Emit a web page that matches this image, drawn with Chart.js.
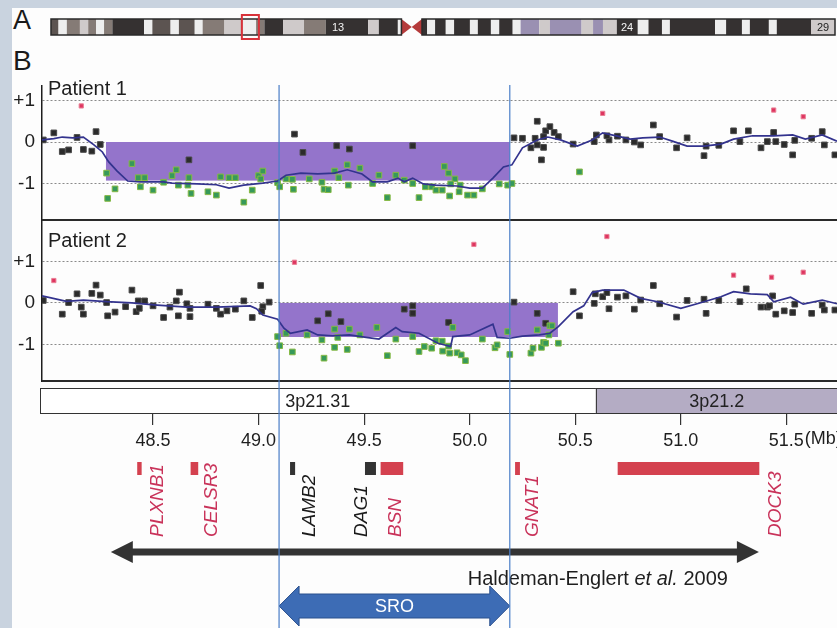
<!DOCTYPE html>
<html>
<head>
<meta charset="utf-8">
<title>3p21.31 deletions</title>
<script src="https://cdn.jsdelivr.net/npm/chart.js@4.4.1/dist/chart.umd.min.js"></script>
<style>
  body{margin:0;width:837px;height:628px;overflow:hidden;background:#c9d3df;font-family:Arial,"Liberation Sans",sans-serif;}
  .sheet{position:absolute;left:12px;top:8px;width:825px;height:620px;background:#fdfdfd;}
  canvas{position:absolute;left:0;}
  .lab{position:absolute;left:13px;color:#1a1a1a;}
</style>
</head>
<body>
<div class="sheet"></div>
<div class="lab" style="top:5px;font-size:27px;">A</div>
<div class="lab" style="top:45px;font-size:28px;">B</div>
<canvas id="ideo" width="837" height="32" style="top:11px"></canvas>
<canvas id="pat1" width="837" height="151" style="top:70px"></canvas>
<canvas id="pat2" width="837" height="163" style="top:221px"></canvas>
<canvas id="genes" width="837" height="244" style="top:384px"></canvas>
<script>
// ---- data (positions in Mb, values are log2 ratios) ----
var X_MIN = 47.974, X_MAX = 51.74;
var tickVals = [48.5, 49.0, 49.5, 50.0, 50.5, 51.0, 51.5];
var yTicks = [-1, 0, 1];
var sro = [49.097, 50.19];
var haldeman = [48.30, 51.37];

var p1Black = [[47.98,0.05],[48.03,0.22],[48.07,-0.23],[48.10,-0.19],[48.14,0.11],[48.17,-0.18],[48.21,-0.22],[48.23,0.25],[48.25,-0.06],[48.67,-0.43],[49.17,0.19],[49.21,-0.25],[49.37,-0.09],[49.43,-0.17],[49.73,-0.09],[50.21,0.10],[50.25,0.09],[50.32,0.50],[50.29,-0.14],[50.32,-0.07],[50.35,-0.13],[50.34,-0.43],[50.31,0.09],[50.35,0.13],[50.36,0.27],[50.38,0.37],[50.40,0.23],[50.42,0.13],[50.49,-0.05],[50.59,0.01],[50.60,0.17],[50.66,0.05],[50.65,0.15],[50.70,0.14],[50.74,0.05],[50.78,0.0],[50.81,-0.07],[50.87,0.41],[50.90,0.13],[50.98,-0.14],[51.03,0.10],[51.11,-0.33],[51.12,-0.10],[51.18,-0.08],[51.25,0.27],[51.28,0.01],[51.32,0.27],[51.38,-0.14],[51.41,0.01],[51.44,0.23],[51.45,0.01],[51.49,-0.06],[51.53,-0.31],[51.54,0.04],[51.62,0.09],[51.67,0.25],[51.68,-0.07],[51.73,-0.31]];
var p1Green = [[48.28,-0.75],[48.32,-1.13],[48.285,-1.36],[48.40,-0.52],[48.43,-0.86],[48.46,-0.86],[48.44,-1.08],[48.50,-1.16],[48.55,-0.97],[48.59,-0.81],[48.61,-0.67],[48.62,-1.04],[48.67,-0.86],[48.665,-1.04],[48.68,-1.24],[48.76,-1.20],[48.80,-1.28],[48.82,-0.84],[48.86,-0.86],[48.89,-0.86],[48.93,-1.45],[48.97,-1.16],[49.00,-0.81],[49.01,-0.89],[49.02,-0.70],[49.09,-0.98],[49.10,-1.08],[49.13,-0.89],[49.16,-0.90],[49.165,-1.14],[49.24,-0.89],[49.30,-0.97],[49.31,-1.14],[49.33,-1.15],[49.36,-0.70],[49.38,-0.86],[49.42,-0.55],[49.425,-1.04],[49.48,-0.63],[49.54,-1.0],[49.57,-0.80],[49.61,-1.34],[49.65,-0.80],[49.69,-0.92],[49.73,-1.0],[49.76,-1.34],[49.79,-1.08],[49.82,-1.08],[49.84,-1.16],[49.87,-1.16],[49.88,-0.59],[49.90,-0.75],[49.905,-1.30],[49.93,-0.89],[49.91,-1.01],[49.95,-1.20],[49.955,-1.04],[49.99,-1.28],[50.02,-1.28],[50.06,-1.13],[50.14,-1.01],[50.18,-1.04],[50.20,-1.0],[50.52,-0.72]];
var p1Red = [[48.16,0.87],[50.63,0.69],[51.44,0.77],[51.58,0.61]];
var p1Avg = [[47.974,0.05],[48.03,0.08],[48.07,0.12],[48.12,0.10],[48.17,0.12],[48.22,-0.07],[48.26,-0.24],[48.29,-0.48],[48.33,-0.70],[48.38,-0.94],[48.44,-0.96],[48.55,-0.96],[48.59,-0.99],[48.71,-1.01],[48.80,-1.03],[48.86,-1.11],[48.93,-1.04],[49.02,-0.99],[49.09,-0.94],[49.13,-0.80],[49.20,-0.75],[49.28,-0.77],[49.36,-0.75],[49.42,-0.67],[49.49,-0.77],[49.54,-0.96],[49.61,-0.96],[49.66,-0.87],[49.69,-0.96],[49.73,-0.87],[49.78,-1.01],[49.84,-1.04],[49.94,-1.06],[50.00,-1.11],[50.06,-1.11],[50.11,-0.87],[50.16,-0.60],[50.20,-0.55],[50.25,-0.14],[50.32,0.05],[50.37,0.12],[50.43,0.05],[50.51,-0.10],[50.58,0.05],[50.63,0.22],[50.70,0.14],[50.76,0.07],[50.82,0.10],[50.90,0.12],[50.96,0.02],[51.03,-0.10],[51.11,-0.10],[51.19,-0.05],[51.25,0.07],[51.34,0.15],[51.44,0.15],[51.53,0.17],[51.59,0.07],[51.67,0.17],[51.74,0.02]];
var p1Del = [48.277, 50.19, -0.93];

var p2Black = [[47.98,0.06],[48.07,-0.27],[48.10,0.01],[48.14,0.22],[48.16,-0.10],[48.17,-0.27],[48.21,0.23],[48.23,0.43],[48.25,0.19],[48.28,0.01],[48.285,-0.31],[48.32,-0.22],[48.37,-0.09],[48.40,0.31],[48.42,-0.21],[48.435,-0.13],[48.43,0.05],[48.46,0.05],[48.50,-0.07],[48.55,-0.35],[48.58,-0.10],[48.61,0.05],[48.62,-0.31],[48.625,0.26],[48.66,-0.02],[48.675,-0.13],[48.675,-0.33],[48.76,-0.03],[48.80,-0.13],[48.82,-0.27],[48.85,-0.19],[48.89,-0.15],[48.93,0.05],[48.97,-0.35],[49.01,0.42],[49.02,-0.09],[49.015,-0.20],[49.05,0.02],[49.28,-0.43],[49.33,-0.26],[49.39,-0.45],[49.69,-0.15],[49.73,-0.07],[49.73,-0.25],[49.90,-0.47],[50.21,0.02],[50.32,-0.25],[50.36,-0.49],[50.49,0.27],[50.52,-0.31],[50.59,-0.01],[50.595,0.22],[50.63,0.15],[50.65,0.25],[50.66,-0.14],[50.70,0.14],[50.74,0.17],[50.78,-0.15],[50.81,0.07],[50.87,0.42],[50.90,-0.02],[50.98,-0.34],[51.03,0.06],[51.11,0.09],[51.12,-0.25],[51.18,0.06],[51.28,0.03],[51.31,0.34],[51.38,-0.10],[51.41,-0.10],[51.42,-0.07],[51.435,0.17],[51.45,-0.27],[51.49,-0.19],[51.53,-0.23],[51.54,-0.03],[51.62,-0.25],[51.67,-0.05],[51.68,-0.17],[51.73,-0.17]];
var p2Green = [[49.09,-0.81],[49.10,-1.03],[49.13,-0.73],[49.16,-1.18],[49.23,-0.77],[49.30,-0.89],[49.31,-1.33],[49.36,-0.63],[49.36,-1.07],[49.375,-0.83],[49.42,-1.12],[49.43,-0.63],[49.48,-0.77],[49.56,-0.59],[49.61,-1.27],[49.65,-0.87],[49.73,-0.81],[49.76,-1.17],[49.785,-1.05],[49.82,-1.09],[49.84,-0.91],[49.87,-0.92],[49.872,-1.16],[49.90,-1.04],[49.905,-1.21],[49.92,-0.59],[49.94,-1.20],[49.96,-1.25],[49.98,-1.39],[50.06,-0.87],[50.12,-1.08],[50.13,-1.01],[50.18,-0.69],[50.19,-1.24],[50.29,-1.21],[50.30,-1.09],[50.32,-0.65],[50.34,-1.07],[50.35,-0.95],[50.36,-0.97],[50.38,-0.55],[50.39,-0.55],[50.375,-0.77],[50.42,-0.97]];
var p2Red = [[48.03,0.54],[49.17,0.98],[50.02,1.41],[50.65,1.60],[51.25,0.67],[51.43,0.62],[51.58,0.74]];
var p2Avg = [[47.974,0.17],[48.09,0.04],[48.17,0.07],[48.28,0.03],[48.40,0.0],[48.52,-0.05],[48.66,-0.10],[48.80,-0.10],[48.96,-0.07],[48.99,-0.14],[49.02,-0.29],[49.09,-0.39],[49.12,-0.61],[49.15,-0.73],[49.23,-0.65],[49.28,-0.77],[49.35,-0.79],[49.43,-0.77],[49.51,-0.83],[49.57,-0.87],[49.65,-0.59],[49.68,-0.69],[49.76,-0.73],[49.85,-0.97],[49.91,-1.05],[49.92,-0.81],[50.00,-0.77],[50.11,-0.51],[50.13,-0.83],[50.19,-0.85],[50.25,-0.80],[50.33,-0.77],[50.38,-0.73],[50.42,-0.57],[50.49,-0.21],[50.54,-0.07],[50.58,0.25],[50.63,0.31],[50.73,0.31],[50.81,0.11],[50.89,0.03],[51.00,-0.13],[51.09,0.0],[51.19,0.15],[51.25,0.27],[51.33,0.22],[51.41,0.20],[51.44,0.03],[51.52,0.14],[51.58,-0.03],[51.67,0.07],[51.74,-0.02]];
var p2Del = [49.097, 50.418, -0.82];

var bandNames = ['3p21.31', '3p21.2'];
var bandStart = [44.1, 50.598];
var bandEnd = [50.598, 52.3];
var bandLabelAt = [49.28, 51.17];

var geneNames = ['PLXNB1','CELSR3','LAMB2','DAG1','BSN','GNAT1','DOCK3'];
var geneStart = [48.425, 48.678, 49.149, 49.504, 49.578, 50.215, 50.701];
var geneEnd   = [48.446, 48.714, 49.173, 49.556, 49.685, 50.238, 51.372];
var geneMarked = [1, 1, 0, 0, 1, 1, 1];
var geneLabelAt = [48.52, 48.78, 49.24, 49.49, 49.65, 50.30, 51.45];

// chromosome 3 ideogram, [start Mb, end Mb, stain]
var ideoBands = [[0,1.9,'gpos75'],[1.9,4.0,'gneg'],[4.0,7.3,'gpos50'],[7.3,9.4,'gpos25'],[9.4,11.4,'gpos50'],[11.4,13.4,'gneg'],[13.4,15.5,'gpos50'],[15.5,23.5,'gpos100'],[23.5,25.6,'gneg'],[25.6,30.2,'gpos75'],[30.2,32.3,'gneg'],[32.3,36.3,'gpos75'],[36.3,38.3,'gneg'],[38.3,43.8,'gpos50'],[43.8,48.5,'gpos25'],[48.5,51.8,'gneg'],[51.8,53.9,'gpos50'],[53.9,58.6,'gpos100'],[58.6,63.9,'gpos25'],[63.9,69.4,'gpos50'],[69.4,80.1,'gpos100'],[80.1,82.8,'gpos25'],[82.8,87.6,'gpos100'],[87.6,88.5,'gneg'],[88.5,93.7,'acen'],[93.7,95,'gpos100'],[95,97,'gneg'],[97,99.7,'gpos100'],[99.7,101.8,'gneg'],[101.8,105.8,'gpos100'],[105.8,107.8,'gneg'],[107.8,111.1,'gpos100'],[111.1,113.2,'gneg'],[113.2,116.6,'gpos100'],[116.6,118.6,'gneg'],[118.6,123.3,'gvar'],[123.3,126,'gpos25'],[126,134,'gvar'],[134,136.9,'gpos25'],[136.9,139.4,'gvar'],[139.4,142.9,'gpos25'],[142.9,148.2,'gpos100'],[148.2,150.9,'gneg'],[150.9,154.3,'gpos100'],[154.3,156.3,'gneg'],[156.3,167.7,'gpos100'],[167.7,170.5,'gneg'],[170.5,174.5,'gpos100'],[174.5,176.5,'gneg'],[176.5,181.3,'gpos100'],[181.3,183.3,'gneg'],[183.3,192,'gpos100'],[192,198,'gpos25']];
var ideoLabels = [['13', 72.5], ['24', 145.5], ['29', 195]];
var ideoBox = [48.2, 52.5];

// ---- drawing ----
Chart.defaults.font.family = 'Arial, "Liberation Sans", sans-serif';
Chart.defaults.color = '#1e1e1e';
var FONT = 'Arial, "Liberation Sans", sans-serif';
var stainColor = {gneg:'#eeeeee', gpos25:'#cfcaca', gpos50:'#857b76', gpos75:'#5c5451', gpos100:'#353131', gvar:'#9a90b2'};

function pts(a){ return a.map(function(p){ return {x:p[0], y:p[1]}; }); }

function blueLines(chart, y0){
  var ctx = chart.ctx, x = chart.scales.x;
  ctx.save();
  ctx.strokeStyle = '#4a7ec8';
  ctx.lineWidth = 1.2;
  sro.forEach(function(v){
    var px = x.getPixelForValue(v);
    ctx.beginPath(); ctx.moveTo(px, y0); ctx.lineTo(px, chart.height); ctx.stroke();
  });
  ctx.restore();
}

function panelChart(id, black, green, red, avg, del, yMin, yMax, title, titleDy){
  var panelPlugin = {
    id: 'panel',
    beforeDatasetsDraw: function(chart){
      var ctx = chart.ctx, x = chart.scales.x, y = chart.scales.y;
      var x0 = x.getPixelForValue(del[0]), x1 = x.getPixelForValue(del[1]);
      var y0 = y.getPixelForValue(0), y1 = y.getPixelForValue(del[2]);
      ctx.save();
      ctx.fillStyle = '#9474cb';
      ctx.fillRect(x0, y0, x1 - x0, y1 - y0);
      ctx.restore();
    },
    afterDraw: function(chart){
      var ctx = chart.ctx, a = chart.chartArea;
      ctx.save();
      ctx.strokeStyle = '#2a2a2a';
      ctx.lineWidth = 2;
      ctx.beginPath(); ctx.moveTo(a.left, a.bottom); ctx.lineTo(a.right, a.bottom); ctx.stroke();
      ctx.fillStyle = '#1e1e1e';
      ctx.font = '20px ' + FONT;
      ctx.textBaseline = 'alphabetic';
      ctx.fillText(title, a.left + 6, a.top + titleDy);
      ctx.restore();
      blueLines(chart, a.top - 1);
    }
  };
  return new Chart(document.getElementById(id), {
    type: 'scatter',
    data: {datasets: [
      {type:'line', data: pts(avg), borderColor:'#33338e', borderWidth:1.7, pointRadius:0, fill:false, tension:0, order:0},
      {data: pts(green), pointStyle:'rect', pointRadius:4, backgroundColor:'#36995a', borderColor:'#86b944', borderWidth:1, order:1},
      {data: pts(red), pointStyle:'rect', pointRadius:3, backgroundColor:'#de3560', borderColor:'#ea8096', borderWidth:1, order:1},
      {data: pts(black), pointStyle:'rect', pointRadius:4, backgroundColor:'#2b2b2b', borderColor:'#4a4a4a', borderWidth:1, order:2}
    ]},
    options: {
      responsive: false, animation: false, devicePixelRatio: 1,
      layout: {autoPadding: false, padding: {left:0, right:0, top: id === 'pat1' ? 16 : 1, bottom: id === 'pat1' ? 1 : 3}},
      scales: {
        x: {type:'linear', min:X_MIN, max:X_MAX, display:false},
        y: {type:'linear', min:yMin, max:yMax,
            afterBuildTicks: function(s){ s.ticks = yTicks.map(function(v){ return {value:v}; }); },
            afterFit: function(s){ s.width = 42; s.paddingTop = 0; s.paddingBottom = 0; },
            ticks: {font:{size:19}, color:'#1e1e1e', padding:7,
                    callback: function(v){ return v > 0 ? '+' + v : String(v); }},
            grid: {color:'#8a8a8a', lineWidth:1, drawTicks:false},
            border: {display:true, color:'#1e1e1e', width:1.5, dash:[2,2]}}
      },
      plugins: {legend:{display:false}, tooltip:{enabled:false}}
    },
    plugins: [panelPlugin]
  });
}

panelChart('pat1', p1Black, p1Green, p1Red, p1Avg, p1Del, -1.88, 1.35, 'Patient 1', 9);
panelChart('pat2', p2Black, p2Green, p2Red, p2Avg, p2Del, -1.88, 1.95, 'Patient 2', 25);

function dblArrow(ctx, x0, x1, y, shaft, head, headLen){
  ctx.beginPath();
  ctx.moveTo(x0, y);
  ctx.lineTo(x0 + headLen, y - head);
  ctx.lineTo(x0 + headLen, y - shaft);
  ctx.lineTo(x1 - headLen, y - shaft);
  ctx.lineTo(x1 - headLen, y - head);
  ctx.lineTo(x1, y);
  ctx.lineTo(x1 - headLen, y + head);
  ctx.lineTo(x1 - headLen, y + shaft);
  ctx.lineTo(x0 + headLen, y + shaft);
  ctx.lineTo(x0 + headLen, y + head);
  ctx.closePath();
}

var genePlugin = {
  id: 'genes',
  afterDraw: function(chart){
    var ctx = chart.ctx, a = chart.chartArea, x = chart.scales.x;
    var b = a.bottom;
    ctx.save();
    // cytoband bar
    for (var i = 0; i < bandNames.length; i++) {
      var bx0 = Math.max(x.getPixelForValue(bandStart[i]), a.left - 2);
      var bx1 = Math.min(x.getPixelForValue(bandEnd[i]), a.right);
      ctx.fillStyle = i === 0 ? '#ffffff' : '#b4acc4';
      ctx.fillRect(bx0, a.top, bx1 - bx0, a.bottom - a.top);
      ctx.strokeStyle = '#333';
      ctx.lineWidth = 1;
      ctx.strokeRect(bx0 + 0.5, a.top + 0.5, bx1 - bx0, a.bottom - a.top - 1);
      ctx.fillStyle = '#222';
      ctx.font = '18px ' + FONT;
      ctx.textAlign = 'center';
      ctx.textBaseline = 'middle';
      ctx.fillText(bandNames[i], x.getPixelForValue(bandLabelAt[i]), (a.top + a.bottom) / 2 + 1);
    }
    // unit after the last tick label
    ctx.font = '18px ' + FONT;
    ctx.textAlign = 'left';
    ctx.textBaseline = 'top';
    var last = tickVals[tickVals.length - 1];
    var lw = ctx.measureText(last.toFixed(1)).width;
    ctx.fillStyle = '#1e1e1e';
    ctx.fillText('(Mb)', x.getPixelForValue(last) + lw / 2 + 1, b + 16);
    // genes
    for (var g = 0; g < geneNames.length; g++) {
      var gx0 = x.getPixelForValue(geneStart[g]), gx1 = x.getPixelForValue(geneEnd[g]);
      ctx.fillStyle = geneMarked[g] ? '#d4414f' : '#333333';
      ctx.fillRect(gx0, b + 48, Math.max(gx1 - gx0, 3), 13);
      ctx.save();
      ctx.translate(x.getPixelForValue(geneLabelAt[g]), b + 123);
      ctx.rotate(-Math.PI / 2);
      ctx.font = 'italic 19px ' + FONT;
      ctx.textAlign = 'left';
      ctx.textBaseline = 'middle';
      ctx.fillStyle = geneMarked[g] ? '#c9335a' : '#1a1a1a';
      ctx.fillText(geneNames[g], 0, 0);
      ctx.restore();
    }
    // previously reported deletion
    ctx.fillStyle = '#333333';
    dblArrow(ctx, x.getPixelForValue(haldeman[0]), x.getPixelForValue(haldeman[1]), b + 138, 3.5, 11, 22);
    ctx.fill();
    var parts = [['Haldeman-Englert ', ''], ['et al.', 'italic '], [' 2009', '']];
    var total = 0;
    parts.forEach(function(p){ ctx.font = p[1] + '20px ' + FONT; total += ctx.measureText(p[0]).width; });
    var tx = x.getPixelForValue(haldeman[1]) - 31 - total;
    ctx.textAlign = 'left';
    ctx.textBaseline = 'alphabetic';
    ctx.fillStyle = '#1e1e1e';
    parts.forEach(function(p){
      ctx.font = p[1] + '20px ' + FONT;
      ctx.fillText(p[0], tx, b + 171);
      tx += ctx.measureText(p[0]).width;
    });
    // smallest region of overlap
    ctx.fillStyle = '#3d6cb5';
    ctx.strokeStyle = '#2b508d';
    ctx.lineWidth = 1;
    dblArrow(ctx, x.getPixelForValue(sro[0]), x.getPixelForValue(sro[1]), b + 192, 12, 20, 20);
    ctx.fill();
    ctx.stroke();
    ctx.fillStyle = '#ffffff';
    ctx.font = '18px ' + FONT;
    ctx.textAlign = 'center';
    ctx.textBaseline = 'middle';
    ctx.fillText('SRO', (x.getPixelForValue(sro[0]) + x.getPixelForValue(sro[1])) / 2, b + 193);
    ctx.restore();
    blueLines(chart, 0);
  }
};

new Chart(document.getElementById('genes'), {
  type: 'scatter',
  data: {datasets: []},
  options: {
    responsive: false, animation: false, devicePixelRatio: 1,
    layout: {autoPadding: false, padding: {left:42, right:0, top:4, bottom:0}},
    scales: {
      x: {type:'linear', min:X_MIN, max:X_MAX, position:'bottom',
          afterBuildTicks: function(s){ s.ticks = tickVals.map(function(v){ return {value:v}; }); },
          afterFit: function(s){ s.height = 214; s.paddingLeft = 0; s.paddingRight = 0; },
          ticks: {font:{size:18}, color:'#1e1e1e', padding:5, maxRotation:0, autoSkip:false,
                  callback: function(v){ return v.toFixed(1); }},
          grid: {drawOnChartArea:false, drawTicks:true, tickLength:11, color:'#333', lineWidth:1.2},
          border: {display:false}},
      y: {display:false, min:0, max:1}
    },
    plugins: {legend:{display:false}, tooltip:{enabled:false}}
  },
  plugins: [genePlugin]
});

var ideoPlugin = {
  id: 'ideo',
  afterDraw: function(chart){
    var ctx = chart.ctx, a = chart.chartArea, x = chart.scales.x;
    var h = a.bottom - a.top, mid = (a.top + a.bottom) / 2;
    ctx.save();
    ideoBands.forEach(function(bd){
      var x0 = x.getPixelForValue(bd[0]), x1 = x.getPixelForValue(bd[1]);
      if (bd[2] === 'acen') {
        var xm = (x0 + x1) / 2;
        ctx.fillStyle = '#b53b3b';
        ctx.beginPath(); ctx.moveTo(x0, a.top); ctx.lineTo(xm, mid); ctx.lineTo(x0, a.bottom); ctx.closePath(); ctx.fill();
        ctx.beginPath(); ctx.moveTo(x1, a.top); ctx.lineTo(xm, mid); ctx.lineTo(x1, a.bottom); ctx.closePath(); ctx.fill();
      } else {
        ctx.fillStyle = stainColor[bd[2]];
        ctx.fillRect(x0, a.top, x1 - x0, h);
      }
    });
    ctx.strokeStyle = '#2a2a2a';
    ctx.lineWidth = 1.5;
    var cen = ideoBands.filter(function(bd){ return bd[2] === 'acen'; })[0];
    ctx.strokeRect(x.getPixelForValue(0), a.top, x.getPixelForValue(cen[0]) - x.getPixelForValue(0), h);
    ctx.strokeRect(x.getPixelForValue(cen[1]), a.top, x.getPixelForValue(198) - x.getPixelForValue(cen[1]), h);
    ctx.font = '11px ' + FONT;
    ctx.textAlign = 'center';
    ctx.textBaseline = 'middle';
    ideoLabels.forEach(function(l){
      var px = x.getPixelForValue(l[1]);
      ctx.fillStyle = l[0] === '29' ? '#222' : '#f4f4f4';
      ctx.fillText(l[0], px, mid + 1);
    });
    ctx.strokeStyle = '#d8323a';
    ctx.lineWidth = 2;
    var r0 = x.getPixelForValue(ideoBox[0]), r1 = x.getPixelForValue(ideoBox[1]);
    ctx.strokeRect(r0, a.top - 4, r1 - r0, h + 8);
    ctx.restore();
  }
};

new Chart(document.getElementById('ideo'), {
  type: 'scatter',
  data: {datasets: []},
  options: {
    responsive: false, animation: false, devicePixelRatio: 1,
    layout: {autoPadding: false, padding: {left:51, right:2, top:8, bottom:8}},
    scales: {
      x: {type:'linear', min:0, max:198, display:false},
      y: {display:false, min:0, max:1}
    },
    plugins: {legend:{display:false}, tooltip:{enabled:false}}
  },
  plugins: [ideoPlugin]
});
</script>
</body>
</html>
